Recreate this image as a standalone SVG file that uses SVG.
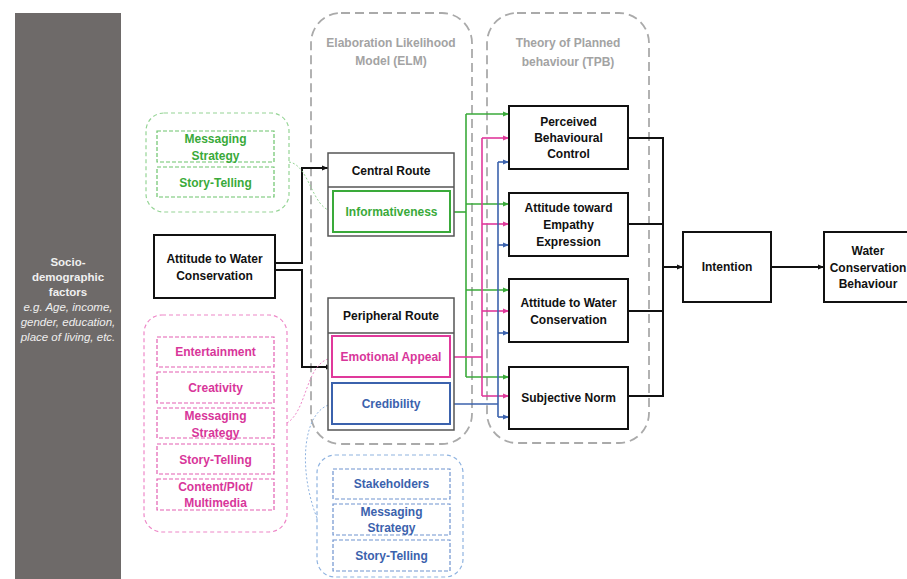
<svg xmlns="http://www.w3.org/2000/svg" width="907" height="579" viewBox="0 0 907 579">
<defs>
<marker id="ak" viewBox="0 0 10 10" refX="10" refY="5" markerWidth="6" markerHeight="6" markerUnits="userSpaceOnUse" orient="auto"><path d="M0,1 L10,5 L0,9 z" fill="#111"/></marker>
<marker id="ag" viewBox="0 0 10 10" refX="10" refY="5" markerWidth="6" markerHeight="6" markerUnits="userSpaceOnUse" orient="auto"><path d="M0,1 L10,5 L0,9 z" fill="#3aaa3a"/></marker>
<marker id="ap" viewBox="0 0 10 10" refX="10" refY="5" markerWidth="6" markerHeight="6" markerUnits="userSpaceOnUse" orient="auto"><path d="M0,1 L10,5 L0,9 z" fill="#e0399b"/></marker>
<marker id="ab" viewBox="0 0 10 10" refX="10" refY="5" markerWidth="6" markerHeight="6" markerUnits="userSpaceOnUse" orient="auto"><path d="M0,1 L10,5 L0,9 z" fill="#3b62ad"/></marker>
<marker id="agl" viewBox="0 0 10 10" refX="10" refY="5" markerWidth="4" markerHeight="4" markerUnits="userSpaceOnUse" orient="auto"><path d="M0,1 L10,5 L0,9 z" fill="#8fd18f"/></marker>
<marker id="apl" viewBox="0 0 10 10" refX="10" refY="5" markerWidth="4" markerHeight="4" markerUnits="userSpaceOnUse" orient="auto"><path d="M0,1 L10,5 L0,9 z" fill="#ee88c8"/></marker>
<marker id="abl" viewBox="0 0 10 10" refX="10" refY="5" markerWidth="4" markerHeight="4" markerUnits="userSpaceOnUse" orient="auto"><path d="M0,1 L10,5 L0,9 z" fill="#8fb3e0"/></marker>
</defs>
<style>
text{font-family:"Liberation Sans",Arial,sans-serif;font-size:12px;font-weight:bold;text-anchor:middle;fill:#111}
.box{fill:#fff;stroke:#111;stroke-width:2}
.route{fill:#fff;stroke:#555;stroke-width:1.5}
.frame{fill:none;stroke:#aaa;stroke-width:1.8;stroke-dasharray:9 5}
.title{fill:#a3a3a3}
.socio{fill:#f0f0f0;font-size:11.5px}
.socioi{fill:#eeeeee;font-size:11.5px;font-weight:normal;font-style:italic}
.gg{fill:none;stroke:#95d495;stroke-width:1.2;stroke-dasharray:4 3}
.gi{fill:none;stroke:#6cc46c;stroke-width:1.2;stroke-dasharray:4 2}
.pg{fill:none;stroke:#ee88c8;stroke-width:1.2;stroke-dasharray:4 3}
.pi{fill:none;stroke:#e35fb2;stroke-width:1.2;stroke-dasharray:4 2}
.bg{fill:none;stroke:#8fb3e0;stroke-width:1.2;stroke-dasharray:4 3}
.bi{fill:none;stroke:#6f93cf;stroke-width:1.2;stroke-dasharray:4 2}
.tg{fill:#3aaa3a}
.tp{fill:#d8369a}
.tb{fill:#3b62ad}
.ck{fill:none;stroke:#111;stroke-width:2}
.cg{fill:none;stroke:#3aaa3a;stroke-width:1.6}
.cp{fill:none;stroke:#e0399b;stroke-width:1.6}
.cb{fill:none;stroke:#3b62ad;stroke-width:1.6}
.dg{fill:none;stroke:#95d495;stroke-width:1;stroke-dasharray:2 2}
.dp{fill:none;stroke:#ee88c8;stroke-width:1;stroke-dasharray:2 2}
.db{fill:none;stroke:#8fb3e0;stroke-width:1;stroke-dasharray:2 2}
</style>
<rect x="0" y="0" width="907" height="579" fill="#fff"/>

<g id="socio">
<rect x="15" y="13" width="106" height="570" fill="#6e6a69"/>
<text class="socio" x="68" y="266">Socio-</text>
<text class="socio" x="68" y="281">demographic</text>
<text class="socio" x="68" y="296">factors</text>
<text class="socioi" x="68" y="311">e.g. Age, income,</text>
<text class="socioi" x="68" y="326">gender, education,</text>
<text class="socioi" x="68" y="341">place of living, etc.</text>
</g>

<g id="elm-frame">
<rect class="frame" x="311" y="13" width="161" height="431" rx="30"/>
<text class="title" x="391" y="47">Elaboration Likelihood</text>
<text class="title" x="391" y="65">Model (ELM)</text>
</g>
<g id="tpb-frame">
<rect class="frame" x="487" y="13" width="162" height="430" rx="30"/>
<text class="title" x="568" y="47">Theory of Planned</text>
<text class="title" x="568" y="66">behaviour (TPB)</text>
</g>

<g id="connectors">
<path class="ck" d="M275,263 H302 V168 H328" marker-end="url(#ak)"/>
<path class="ck" d="M275,270 H302 V367 H332" marker-end="url(#ak)"/>
<path class="cg" d="M450,212 H466"/>
<path class="cg" d="M466,114 V377"/>
<path class="cg" d="M466,114 H509" marker-end="url(#ag)"/>
<path class="cg" d="M466,204 H509" marker-end="url(#ag)"/>
<path class="cg" d="M466,290 H509" marker-end="url(#ag)"/>
<path class="cg" d="M466,377 H509" marker-end="url(#ag)"/>
<path class="cp" d="M450,357 H482"/>
<path class="cp" d="M482,138 V396"/>
<path class="cp" d="M482,138 H509" marker-end="url(#ap)"/>
<path class="cp" d="M482,224 H509" marker-end="url(#ap)"/>
<path class="cp" d="M482,311 H509" marker-end="url(#ap)"/>
<path class="cp" d="M482,396 H509" marker-end="url(#ap)"/>
<path class="cb" d="M450,404 H498"/>
<path class="cb" d="M498,162 V417"/>
<path class="cb" d="M498,162 H509" marker-end="url(#ab)"/>
<path class="cb" d="M498,245 H509" marker-end="url(#ab)"/>
<path class="cb" d="M498,333 H509" marker-end="url(#ab)"/>
<path class="cb" d="M498,417 H509" marker-end="url(#ab)"/>
<path class="ck" d="M628,138 H663 M628,224 H663 M628,311 H663 M628,396 H663 M663,137 V397"/>
<path class="ck" d="M663,267 H683" marker-end="url(#ak)"/>
<path class="ck" d="M771,267 H824" marker-end="url(#ak)"/>
<path class="dg" d="M289,162 C310,165 312,210 333,211" marker-end="url(#agl)"/>
<path class="dp" d="M287,423 C308,410 305,362 332,358" marker-end="url(#apl)"/>
<path class="db" d="M317,518 C298,470 302,410 332,404" marker-end="url(#abl)"/>
</g>

<g id="green-factors">
<rect class="gg" x="146" y="113" width="143" height="99" rx="18"/>
<rect class="gi" x="157" y="131" width="117" height="31"/>
<rect class="gi" x="157" y="167" width="117" height="30"/>
<text class="tg" x="215.5" y="143">Messaging</text>
<text class="tg" x="215.5" y="160">Strategy</text>
<text class="tg" x="215.5" y="187">Story-Telling</text>
</g>

<g id="pink-factors">
<rect class="pg" x="144" y="315" width="143" height="217" rx="18"/>
<rect class="pi" x="157" y="337" width="117" height="30"/>
<rect class="pi" x="157" y="372" width="117" height="31"/>
<rect class="pi" x="157" y="408" width="117" height="30"/>
<rect class="pi" x="157" y="444" width="117" height="30"/>
<rect class="pi" x="157" y="479" width="117" height="31"/>
<text class="tp" x="215.5" y="356">Entertainment</text>
<text class="tp" x="215.5" y="392">Creativity</text>
<text class="tp" x="215.5" y="420">Messaging</text>
<text class="tp" x="215.5" y="437">Strategy</text>
<text class="tp" x="215.5" y="464">Story-Telling</text>
<text class="tp" x="215.5" y="491">Content/Plot/</text>
<text class="tp" x="215.5" y="507">Multimedia</text>
</g>

<g id="blue-factors">
<rect class="bg" x="317" y="455" width="146" height="122" rx="18"/>
<rect class="bi" x="333" y="469" width="117" height="30"/>
<rect class="bi" x="333" y="504" width="117" height="31"/>
<rect class="bi" x="333" y="540" width="117" height="31"/>
<text class="tb" x="391.5" y="488">Stakeholders</text>
<text class="tb" x="391.5" y="516">Messaging</text>
<text class="tb" x="391.5" y="532">Strategy</text>
<text class="tb" x="391.5" y="560">Story-Telling</text>
</g>

<g id="attitude">
<rect class="box" x="154" y="235" width="121" height="63"/>
<text x="214.5" y="263">Attitude to Water</text>
<text x="214.5" y="280">Conservation</text>
</g>

<g id="central-route">
<rect class="route" x="328" y="153" width="126" height="83"/>
<line x1="328" y1="187" x2="454" y2="187" stroke="#555" stroke-width="1.5"/>
<text x="391" y="175">Central Route</text>
</g>
<g id="informativeness">
<rect x="333" y="191" width="117" height="41" fill="#fff" stroke="#3aaa3a" stroke-width="2"/>
<text class="tg" x="391.5" y="216">Informativeness</text>
</g>

<g id="peripheral-route">
<rect class="route" x="328" y="298" width="126" height="132"/>
<line x1="328" y1="333" x2="454" y2="333" stroke="#555" stroke-width="1.5"/>
<text x="391" y="320">Peripheral Route</text>
</g>
<g id="emotional-appeal">
<rect x="332" y="336" width="118" height="41" fill="#fff" stroke="#e0399b" stroke-width="2"/>
<text class="tp" x="391" y="361">Emotional Appeal</text>
</g>
<g id="credibility">
<rect x="332" y="383" width="118" height="41" fill="#fff" stroke="#3b62ad" stroke-width="2"/>
<text class="tb" x="391" y="408">Credibility</text>
</g>

<g id="pbc">
<rect class="box" x="509" y="106" width="119" height="63"/>
<text x="568.5" y="126">Perceived</text>
<text x="568.5" y="142">Behavioural</text>
<text x="568.5" y="158">Control</text>
</g>
<g id="attitude-empathy">
<rect class="box" x="509" y="193" width="119" height="63"/>
<text x="568.5" y="212">Attitude toward</text>
<text x="568.5" y="229">Empathy</text>
<text x="568.5" y="246">Expression</text>
</g>
<g id="attitude-water">
<rect class="box" x="509" y="279" width="119" height="63"/>
<text x="568.5" y="307">Attitude to Water</text>
<text x="568.5" y="324">Conservation</text>
</g>
<g id="subjective-norm">
<rect class="box" x="509" y="367" width="119" height="62"/>
<text x="568.5" y="402">Subjective Norm</text>
</g>

<g id="intention">
<rect class="box" x="683" y="232" width="88" height="70"/>
<text x="727" y="271">Intention</text>
</g>
<g id="behaviour">
<rect class="box" x="824" y="232" width="90" height="70"/>
<text x="868" y="255">Water</text>
<text x="868" y="272">Conservation</text>
<text x="868" y="288">Behaviour</text>
</g>
</svg>
